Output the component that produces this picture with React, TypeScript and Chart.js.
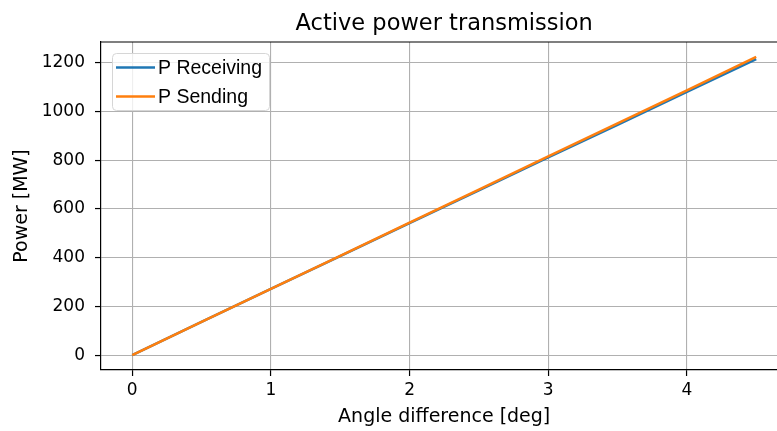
import React, { useEffect, useRef } from "react";
import { Chart, registerables } from "chart.js";

Chart.register(...registerables);

// Angle difference between the two buses [deg]
const angleDeg = [0, 0.5, 1, 1.5, 2, 2.5, 3, 3.5, 4, 4.5];
// Active power at the receiving end [MW]
const pReceiving = [0, 136, 272, 407, 542, 677, 812, 946, 1081, 1216];
// Active power at the sending end [MW]
const pSending = [0, 136, 272, 408, 544, 680, 816, 952, 1088, 1225];

const xTicks = [0, 1, 2, 3, 4];
const yTicks = [0, 200, 400, 600, 800, 1000, 1200];

const TITLE = "Active power transmission";
const X_LABEL = "Angle difference [deg]";
const Y_LABEL = "Power [MW]";
const SERIES_NAMES = ["P Receiving", "P Sending"];
const SERIES_COLORS = ["#1f77b4", "#ff7f0e"];

const W = 777;
const H = 431;
const MONO = "'DejaVu Sans', sans-serif";

// Top spine, title, x-axis label and the framed legend
const decorations = {
  id: "decorations",
  afterDraw(chart: any) {
    const { ctx, chartArea } = chart;
    const xs = chart.scales.x;
    ctx.save();
    // top spine
    ctx.strokeStyle = "#000";
    ctx.lineWidth = 1.2;
    ctx.beginPath();
    ctx.moveTo(chartArea.left, chartArea.top);
    ctx.lineTo(chartArea.right, chartArea.top);
    ctx.stroke();

    // title and x label centered over the full axes span
    const cx = xs.getPixelForValue(2.25);
    ctx.fillStyle = "#000";
    ctx.font = `22.5px ${MONO}`;
    ctx.textAlign = "center";
    ctx.textBaseline = "alphabetic";
    ctx.fillText(TITLE, cx, 29.5);

    ctx.font = `19px ${MONO}`;
    ctx.textBaseline = "middle";
    ctx.fillText(X_LABEL, cx, 417);

    // legend
    const bx = 112, by = 53, bw = 157, bh = 57, r = 4;
    ctx.globalAlpha = 0.8;
    ctx.fillStyle = "#fff";
    ctx.beginPath();
    ctx.roundRect(bx, by, bw, bh, r);
    ctx.fill();
    ctx.globalAlpha = 1;
    ctx.strokeStyle = "#d6d6d6";
    ctx.lineWidth = 1;
    ctx.beginPath();
    ctx.roundRect(bx + 0.5, by + 0.5, bw, bh, r);
    ctx.stroke();

    ctx.font = "19.5px 'Liberation Sans', Arial, sans-serif";
    ctx.textAlign = "left";
    ctx.textBaseline = "middle";
    chart.data.datasets.forEach((ds: any, i: number) => {
      const y = 67.5 + i * 29;
      ctx.strokeStyle = ds.borderColor;
      ctx.lineWidth = 2.5;
      ctx.beginPath();
      ctx.moveTo(116, y);
      ctx.lineTo(155, y);
      ctx.stroke();
      ctx.fillStyle = "#000";
      ctx.fillText(ds.label, 158, y + 1.5);
    });
    ctx.restore();
  },
};

export default function App() {
  const canvasRef = useRef<HTMLCanvasElement | null>(null);

  useEffect(() => {
    if (!canvasRef.current) return;
    const tickFont = { family: MONO, size: 17, lineHeight: 1.2 };
    const labelFont = { family: MONO, size: 19, lineHeight: 1.2 };
    const chart = new Chart(canvasRef.current, {
      type: "line",
      data: {
        datasets: [
          {
            label: SERIES_NAMES[0],
            data: angleDeg.map((a, i) => ({ x: a, y: pReceiving[i] })),
            borderColor: SERIES_COLORS[0],
            backgroundColor: SERIES_COLORS[0],
            borderWidth: 2.5,
            pointRadius: 0,
            order: 1,
          },
          {
            label: SERIES_NAMES[1],
            data: angleDeg.map((a, i) => ({ x: a, y: pSending[i] })),
            borderColor: SERIES_COLORS[1],
            backgroundColor: SERIES_COLORS[1],
            borderWidth: 2.5,
            pointRadius: 0,
            order: 0,
          },
        ],
      },
      options: {
        responsive: false,
        animation: false,
        devicePixelRatio: 1,
        layout: { padding: { top: 42, left: 0, right: 0, bottom: 0 } },
        plugins: {
          legend: { display: false },
          title: { display: false },
          tooltip: { enabled: false },
        },
        scales: {
          x: {
            type: "linear",
            min: -0.225,
            max: 4.65,
            afterFit: (s: any) => {
              s.height = 61;
            },
            afterBuildTicks: (s: any) => {
              s.ticks = xTicks.map((v) => ({ value: v }));
            },
            ticks: {
              includeBounds: false,
              color: "#000",
              font: tickFont,
              padding: 4,
              maxRotation: 0,
              callback: (v: any) => String(v),
            },
            grid: {
              color: "#b0b0b0",
              lineWidth: 1.1,
              tickColor: "#000",
              tickLength: 6,
              tickWidth: 1.2,
            },
            border: { display: true, color: "#000", width: 1.2 },
            title: { display: false },
          },
          y: {
            type: "linear",
            min: -61.25,
            max: 1286.25,
            afterFit: (s: any) => {
              s.width = 101;
            },
            afterBuildTicks: (s: any) => {
              s.ticks = yTicks.map((v) => ({ value: v }));
            },
            ticks: {
              includeBounds: false,
              color: "#000",
              font: tickFont,
              padding: 10,
              callback: (v: any) => String(v),
            },
            grid: {
              color: "#b0b0b0",
              lineWidth: 1.1,
              tickColor: "#000",
              tickLength: 6,
              tickWidth: 1.2,
            },
            border: { display: true, color: "#000", width: 1.2 },
            title: {
              display: true,
              text: Y_LABEL,
              color: "#000",
              font: labelFont,
              padding: { top: 11, bottom: 0 },
            },
          },
        },
      },
      plugins: [decorations],
    });
    return () => chart.destroy();
  }, []);

  return (
    <div style={{ position: "fixed", left: 0, top: 0, width: W, height: H, background: "#fff" }}>
      <canvas ref={canvasRef} width={W} height={H} style={{ display: "block" }} />
    </div>
  );
}
